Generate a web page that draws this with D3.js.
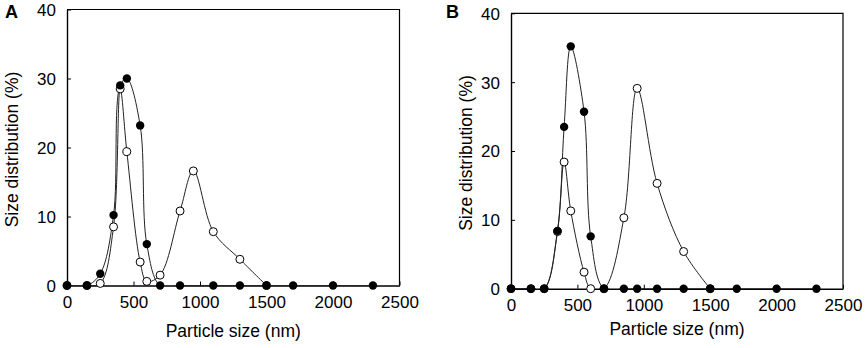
<!DOCTYPE html>
<html><head><meta charset="utf-8">
<script src="https://cdn.jsdelivr.net/npm/d3@7"></script>
<style>html,body{margin:0;padding:0;background:#fff;} svg{display:block;}</style>
</head><body>
<svg id="chart" width="865" height="348"></svg>
<script>
// ---- data ----
const xTicks = [0, 500, 1000, 1500, 2000, 2500];
const yTicks = [0, 10, 20, 30, 40];
const panelLabels = ["A", "B"];
const xTitle = "Particle size (nm)";
const yTitle = "Size distribution (%)";

// Panel A
const aFilledX = [0, 150, 250, 350, 400, 450, 550, 600, 700, 850, 1100, 1300, 1500, 1700, 2000, 2300];
const aFilledY = [0, 0, 1.7, 10.2, 29.0, 30.0, 23.2, 6.0, 0, 0, 0, 0, 0, 0, 0, 0];
const aOpenX = [0, 150, 250, 350, 400, 450, 550, 600, 700, 850, 950, 1100, 1300, 1500];
const aOpenY = [0, 0, 0.3, 8.5, 28.5, 19.4, 3.4, 0.6, 1.5, 10.8, 16.6, 7.8, 3.8, 0];

// Panel B
const bFilledX = [0, 150, 250, 350, 400, 450, 550, 600, 700, 850, 950, 1100, 1300, 1500, 1700, 2000, 2300];
const bFilledY = [0, 0, 0, 8.4, 23.5, 35.2, 25.7, 7.6, 0, 0, 0, 0, 0, 0, 0, 0, 0];
const bOpenX = [0, 150, 250, 350, 400, 450, 550, 600, 700, 850, 950, 1100, 1300, 1500];
const bOpenY = [0, 0, 0, 8.3, 18.4, 11.3, 2.4, 0, 0, 10.3, 29.1, 15.3, 5.4, 0];

const panels = [
  {label: panelLabels[0], filledX: aFilledX, filledY: aFilledY, openX: aOpenX, openY: aOpenY,
   left: 67, right: 399.5, top: 9.5, bottom: 285.5, labelX: 5, yTitleX: 12, xTitleY: 337},
  {label: panelLabels[1], filledX: bFilledX, filledY: bFilledY, openX: bOpenX, openY: bOpenY,
   left: 511, right: 843, top: 13.3, bottom: 288.7, labelX: 446, yTitleX: 466, xTitleY: 335}
];

const svg = d3.select("#chart");
const FONT = "'Liberation Sans', Arial, sans-serif";

panels.forEach((p, i) => {
  const x = d3.scaleLinear().domain([0, 2500]).range([p.left, p.right]);
  const y = d3.scaleLinear().domain([0, 40]).range([p.bottom, p.top]);
  const g = svg.append("g");

  const clipId = "clip" + i;
  svg.append("clipPath").attr("id", clipId).append("rect")
    .attr("x", p.left).attr("y", p.top - 5).attr("width", p.right - p.left).attr("height", p.bottom - p.top + 5);

  const line = d3.line().x(d => x(d[0])).y(d => y(d[1])).curve(d3.curveCatmullRom.alpha(0.5));

  const open = p.openX.map((v, k) => [v, p.openY[k]]);
  const filled = p.filledX.map((v, k) => [v, p.filledY[k]]);

  // lines
  g.append("path").datum(open).attr("d", line).attr("fill", "none")
    .attr("stroke", "#222").attr("stroke-width", 1).attr("clip-path", `url(#${clipId})`);
  g.append("path").datum(filled).attr("d", line).attr("fill", "none")
    .attr("stroke", "#222").attr("stroke-width", 1).attr("clip-path", `url(#${clipId})`);

  // frame (top and right)
  g.append("path")
    .attr("d", `M${p.left},${p.top}H${p.right}V${p.bottom}`)
    .attr("fill", "none").attr("stroke", "#000").attr("stroke-width", 1.2);

  // axes
  const xAxis = d3.axisBottom(x).tickValues(xTicks).tickFormat(d3.format("d")).tickSizeInner(-4).tickSizeOuter(0).tickPadding(10);
  const yAxis = d3.axisLeft(y).tickValues(yTicks).tickFormat(d3.format("d")).tickSizeInner(-4).tickSizeOuter(0).tickPadding(11);
  const gx = g.append("g").attr("transform", `translate(0,${p.bottom})`).call(xAxis);
  const gy = g.append("g").attr("transform", `translate(${p.left},0)`).call(yAxis);
  [gx, gy].forEach(ax => {
    ax.select(".domain").attr("stroke", "#000").attr("stroke-width", 1.4);
    ax.selectAll(".tick line").attr("stroke", "#000").attr("stroke-width", 1);
    ax.selectAll("text").attr("font-family", FONT).attr("font-size", 17).attr("fill", "#000");
  });
  gy.selectAll(".tick text").attr("dy", "0.35em");

  // markers: open first, filled on top
  g.selectAll(".open").data(open).enter().append("circle")
    .attr("cx", d => x(d[0])).attr("cy", d => y(d[1])).attr("r", 4)
    .attr("fill", "#fff").attr("stroke", "#000").attr("stroke-width", 1);
  g.selectAll(".filled").data(filled).enter().append("circle")
    .attr("cx", d => x(d[0])).attr("cy", d => y(d[1])).attr("r", 4.2)
    .attr("fill", "#000");

  // titles
  g.append("text").attr("x", (p.left + p.right) / 2).attr("y", p.xTitleY)
    .attr("text-anchor", "middle").attr("font-family", FONT).attr("font-size", 17.5).text(xTitle);
  g.append("text").attr("transform", `translate(${p.yTitleX},${(p.top + p.bottom) / 2 + 2}) rotate(-90)`)
    .attr("text-anchor", "middle").attr("dy", "0.35em").attr("font-family", FONT).attr("font-size", 17.5).text(yTitle);
  g.append("text").attr("x", p.labelX).attr("y", 18)
    .attr("font-family", FONT).attr("font-weight", "bold").attr("font-size", 18).text(p.label);
});
</script>
</body></html>
